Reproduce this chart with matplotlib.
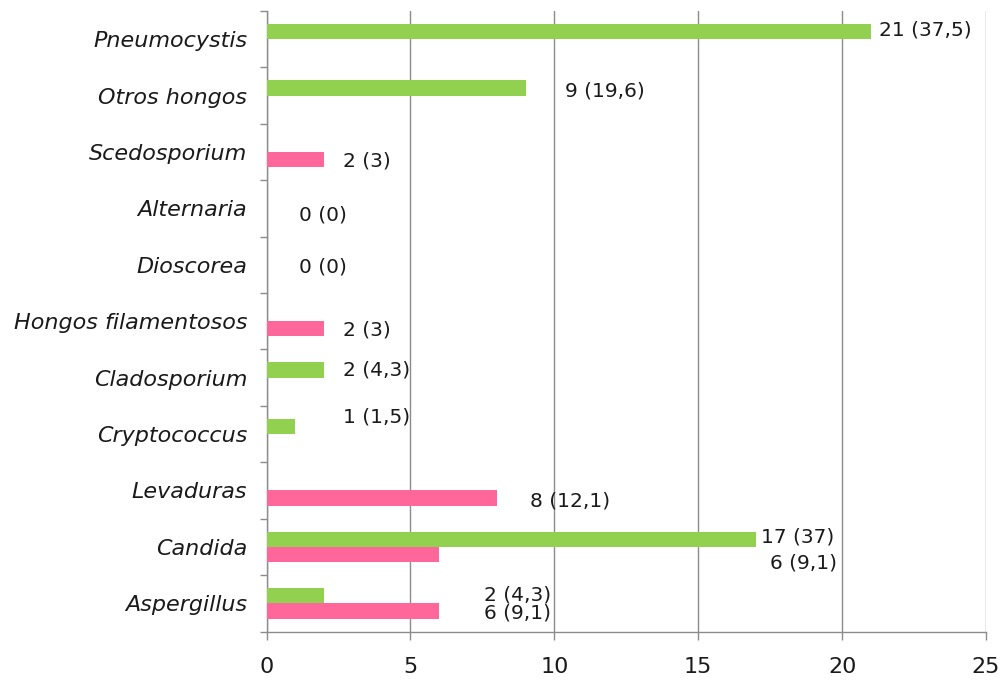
import matplotlib
matplotlib.use("Agg")
import matplotlib.pyplot as plt
import numpy as np

plt.rcParams['font.family'] = ['DejaVu Sans']

# Categories listed from bottom to top of the chart
categories = ['Aspergillus', 'Candida', 'Levaduras', 'Cryptococcus', 'Cladosporium',
              'Hongos filamentosos', 'Dioscorea', 'Alternaria', 'Scedosporium',
              'Otros hongos', 'Pneumocystis']

# Series 1 (green): counts and percentages
green_counts = [2, 17, 0, 1, 2, 0, 0, 0, 0, 9, 21]
green_pct = [4.3, 37, None, 1.5, 4.3, None, None, None, None, 19.6, 37.5]

# Series 2 (pink): counts and percentages
pink_counts = [6, 6, 8, 0, 0, 2, 0, 0, 2, 0, 0]
pink_pct = [9.1, 9.1, 12.1, None, None, 3, 0, 0, 3, None, None]

x_ticks = [0, 5, 10, 15, 20, 25]

# Label placement: offsets (dx, dy) from bar end / category centre
green_label_offsets = {0: (5.54, 0.147), 1: (0.17, 0.181), 3: (1.66, 0.308),
                       4: (0.66, 0.136), 9: (1.37, 0.085), 10: (0.29, 0.163)}
pink_label_offsets = {0: (1.54, -0.172), 1: (11.49, -0.286), 2: (1.14, -0.187),
                      5: (0.66, -0.155), 6: (1.14, -0.03), 7: (1.14, -0.11),
                      8: (0.66, -0.155)}

GREEN = '#92D050'
PINK = '#FF6699'
GRID = '#8C8C8C'
TEXT = '#1A1A1A'
BAR_H = 0.27


def fmt_pct(p):
    s = ('%g' % p)
    return s.replace('.', ',')


fig = plt.figure(figsize=(10.05, 6.82), dpi=100)
ax = fig.add_axes([266.5 / 1005, 50.5 / 682, 719.5 / 1005, 620.5 / 682])

y = np.arange(len(categories))
ax.barh(y, green_counts, height=BAR_H, align='edge', color=GREEN, zorder=3)
ax.barh(y - BAR_H, pink_counts, height=BAR_H, align='edge', color=PINK, zorder=3)

ax.set_xlim(0, 25)
ax.set_ylim(-0.5, len(categories) - 0.5)

# x axis with vertical gridlines
ax.set_xticks(x_ticks)
ax.set_xticklabels([str(t) for t in x_ticks])
ax.xaxis.grid(True, color=GRID, linewidth=1.0, zorder=0)
ax.set_axisbelow(True)
ax.tick_params(axis='x', length=6, width=1.0, color=GRID, pad=12.5,
               labelsize=16, labelcolor=TEXT)

# y axis: labels at category centres, tick marks at category boundaries
ax.set_yticks(y)
ax.set_yticklabels(categories, fontstyle='italic')
ax.set_yticks(np.arange(-0.5, len(categories), 1.0), minor=True)
ax.tick_params(axis='y', which='major', length=0, pad=14, labelsize=16,
               labelcolor=TEXT)
ax.tick_params(axis='y', which='minor', length=5, width=1.0, color=GRID)

for side in ('top', 'right'):
    ax.spines[side].set_visible(False)
for side in ('left', 'bottom'):
    ax.spines[side].set_color(GRID)
    ax.spines[side].set_linewidth(1.0)

# value labels "n (pct)"
for counts, pcts, offsets in ((green_counts, green_pct, green_label_offsets),
                              (pink_counts, pink_pct, pink_label_offsets)):
    for i, (dx, dy) in offsets.items():
        ax.text(counts[i] + dx, i + dy, f"{counts[i]} ({fmt_pct(pcts[i])})",
                ha='left', va='center', fontsize=14.5, color=TEXT, zorder=4)

fig.savefig('out.png', dpi=100, facecolor='white')
